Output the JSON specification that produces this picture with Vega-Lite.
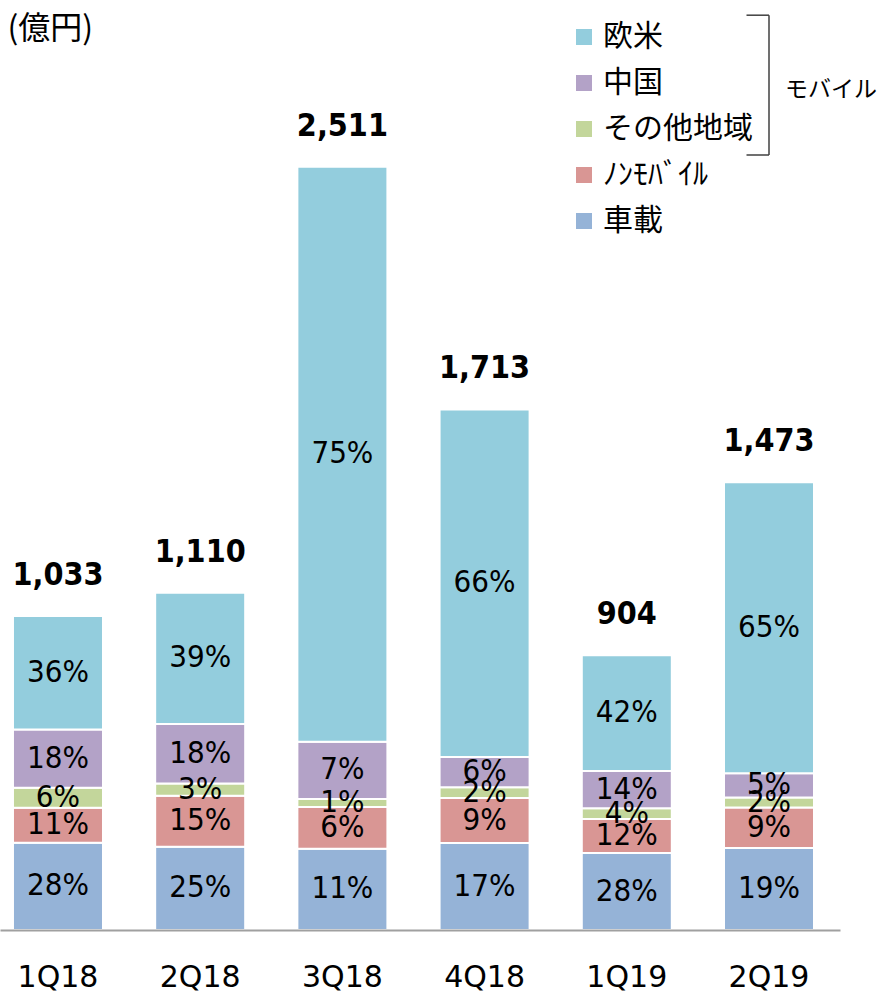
{
  "$schema": "https://vega.github.io/schema/vega-lite/v6.json",
  "width": 840,
  "height": 930,
  "autosize": "none",
  "padding": {"left": 0, "top": 0, "right": 42, "bottom": 62},
  "background": "white",
  "config": {"view": {"stroke": null}},
  "datasets": {
    "segments": [
      {"q": "1Q18", "cat": "車載", "rank": 1, "value": 287, "pct": 0.28},
      {"q": "1Q18", "cat": "ﾉﾝﾓﾊﾞｲﾙ", "rank": 2, "value": 115, "pct": 0.11},
      {"q": "1Q18", "cat": "その他地域", "rank": 3, "value": 66, "pct": 0.06},
      {"q": "1Q18", "cat": "中国", "rank": 4, "value": 192, "pct": 0.18},
      {"q": "1Q18", "cat": "欧米", "rank": 5, "value": 373, "pct": 0.36},
      {"q": "2Q18", "cat": "車載", "rank": 1, "value": 274, "pct": 0.25},
      {"q": "2Q18", "cat": "ﾉﾝﾓﾊﾞｲﾙ", "rank": 2, "value": 168, "pct": 0.15},
      {"q": "2Q18", "cat": "その他地域", "rank": 3, "value": 40, "pct": 0.03},
      {"q": "2Q18", "cat": "中国", "rank": 4, "value": 196, "pct": 0.18},
      {"q": "2Q18", "cat": "欧米", "rank": 5, "value": 432, "pct": 0.39},
      {"q": "3Q18", "cat": "車載", "rank": 1, "value": 267, "pct": 0.11},
      {"q": "3Q18", "cat": "ﾉﾝﾓﾊﾞｲﾙ", "rank": 2, "value": 138, "pct": 0.06},
      {"q": "3Q18", "cat": "その他地域", "rank": 3, "value": 26, "pct": 0.01},
      {"q": "3Q18", "cat": "中国", "rank": 4, "value": 188, "pct": 0.07},
      {"q": "3Q18", "cat": "欧米", "rank": 5, "value": 1892, "pct": 0.75},
      {"q": "4Q18", "cat": "車載", "rank": 1, "value": 286, "pct": 0.17},
      {"q": "4Q18", "cat": "ﾉﾝﾓﾊﾞｲﾙ", "rank": 2, "value": 148, "pct": 0.09},
      {"q": "4Q18", "cat": "その他地域", "rank": 3, "value": 36, "pct": 0.02},
      {"q": "4Q18", "cat": "中国", "rank": 4, "value": 99, "pct": 0.06},
      {"q": "4Q18", "cat": "欧米", "rank": 5, "value": 1144, "pct": 0.66},
      {"q": "1Q19", "cat": "車載", "rank": 1, "value": 253, "pct": 0.28},
      {"q": "1Q19", "cat": "ﾉﾝﾓﾊﾞｲﾙ", "rank": 2, "value": 112, "pct": 0.12},
      {"q": "1Q19", "cat": "その他地域", "rank": 3, "value": 36, "pct": 0.04},
      {"q": "1Q19", "cat": "中国", "rank": 4, "value": 122, "pct": 0.14},
      {"q": "1Q19", "cat": "欧米", "rank": 5, "value": 381, "pct": 0.42},
      {"q": "2Q19", "cat": "車載", "rank": 1, "value": 270, "pct": 0.19},
      {"q": "2Q19", "cat": "ﾉﾝﾓﾊﾞｲﾙ", "rank": 2, "value": 133, "pct": 0.09},
      {"q": "2Q19", "cat": "その他地域", "rank": 3, "value": 33, "pct": 0.02},
      {"q": "2Q19", "cat": "中国", "rank": 4, "value": 80, "pct": 0.05},
      {"q": "2Q19", "cat": "欧米", "rank": 5, "value": 957, "pct": 0.65}
    ],
    "totals": [
      {"q": "1Q18", "total": 1033},
      {"q": "2Q18", "total": 1110},
      {"q": "3Q18", "total": 2511},
      {"q": "4Q18", "total": 1713},
      {"q": "1Q19", "total": 904},
      {"q": "2Q19", "total": 1473}
    ],
    "bracket": [
      {"group": "モバイル"}
    ]
  },
  "layer": [
    {
      "data": {"name": "segments"},
      "mark": {"type": "bar", "stroke": "white", "strokeWidth": 2},
      "encoding": {
        "x": {
          "field": "q",
          "type": "nominal",
          "sort": ["1Q18", "2Q18", "3Q18", "4Q18", "1Q19", "2Q19"],
          "scale": {"domain": ["1Q18", "2Q18", "3Q18", "4Q18", "1Q19", "2Q19"], "paddingInner": 0.367, "paddingOuter": 0.137, "align": 0.333},
          "axis": {
            "title": null,
            "labelAngle": 0,
            "ticks": false,
            "tickSize": 0,
            "domainColor": "#A0A0A0",
            "domainWidth": 2,
            "labelFont": "DejaVu Sans",
            "labelFontSize": 30,
            "labelColor": "#000000",
            "labelBaseline": "alphabetic",
            "labelPadding": 56,
            "zindex": 1
          }
        },
        "y": {
          "field": "value",
          "type": "quantitative",
          "stack": "zero",
          "scale": {"domain": [0, 3060], "nice": false},
          "axis": {
            "domain": false,
            "ticks": false,
            "labels": false,
            "grid": false,
            "title": "(億円)",
            "titleAngle": 0,
            "titleX": 7,
            "titleY": 28,
            "titleAlign": "left",
            "titleBaseline": "middle",
            "titleFont": "Noto Sans CJK JP",
            "titleFontSize": 32,
            "titleFontWeight": "normal",
            "titleColor": "#000000"
          }
        },
        "color": {
          "field": "cat",
          "type": "nominal",
          "scale": {
            "domain": ["欧米", "中国", "その他地域", "ﾉﾝﾓﾊﾞｲﾙ", "車載"],
            "range": ["#93CDDD", "#B3A2C7", "#C3D69B", "#D99694", "#95B3D7"]
          },
          "legend": {
            "title": null,
            "orient": "none",
            "legendX": 569,
            "legendY": 22,
            "symbolType": "square",
            "symbolSize": 256,
            "symbolStrokeWidth": 0,
            "labelFont": "Noto Sans CJK JP",
            "labelFontSize": 30,
            "labelColor": "#000000",
            "labelOffset": 4,
            "rowPadding": 16,
            "labelLimit": 300,
            "padding": 0
          }
        },
        "order": {"field": "rank", "type": "quantitative"}
      }
    },
    {
      "data": {"name": "segments"},
      "mark": {"type": "text", "font": "DejaVu Sans Condensed, Liberation Sans", "fontSize": 31, "color": "#000000", "baseline": "middle"},
      "encoding": {
        "x": {"field": "q", "type": "nominal"},
        "y": {"field": "value", "type": "quantitative", "stack": "zero", "bandPosition": 0.5},
        "detail": {"field": "cat", "type": "nominal"},
        "order": {"field": "rank", "type": "quantitative"},
        "text": {"field": "pct", "type": "quantitative", "format": ".0%"}
      }
    },
    {
      "data": {"name": "totals"},
      "mark": {"type": "text", "font": "DejaVu Sans Condensed, Liberation Sans", "fontWeight": "bold", "fontSize": 32, "color": "#000000", "baseline": "alphabetic", "dy": -31},
      "encoding": {
        "x": {"field": "q", "type": "nominal"},
        "y": {"field": "total", "type": "quantitative"},
        "text": {"field": "total", "type": "quantitative", "format": ","}
      }
    },
    {
      "data": {"name": "bracket"},
      "mark": {"type": "rule", "color": "#404040", "strokeWidth": 1.5},
      "encoding": {
        "x": {"datum": "2Q19", "type": "nominal", "bandPosition": 0.5},
        "y": {"datum": 3010, "type": "quantitative"},
        "y2": {"datum": 2550}
      }
    },
    {
      "data": {"name": "bracket"},
      "mark": {"type": "rule", "color": "#404040", "strokeWidth": 1.5},
      "encoding": {
        "x": {"datum": "2Q19", "type": "nominal", "bandPosition": 0.25},
        "x2": {"datum": "2Q19", "bandPosition": 0.5},
        "y": {"datum": 3010, "type": "quantitative"}
      }
    },
    {
      "data": {"name": "bracket"},
      "mark": {"type": "rule", "color": "#404040", "strokeWidth": 1.5},
      "encoding": {
        "x": {"datum": "2Q19", "type": "nominal", "bandPosition": 0.25},
        "x2": {"datum": "2Q19", "bandPosition": 0.5},
        "y": {"datum": 2550, "type": "quantitative"}
      }
    },
    {
      "data": {"name": "bracket"},
      "mark": {"type": "text", "font": "Noto Sans CJK JP", "fontSize": 23, "align": "left", "baseline": "middle", "dx": 16, "color": "#000000"},
      "encoding": {
        "x": {"datum": "2Q19", "type": "nominal", "bandPosition": 0.5},
        "y": {"datum": 2764, "type": "quantitative"},
        "text": {"field": "group", "type": "nominal"}
      }
    }
  ]
}
